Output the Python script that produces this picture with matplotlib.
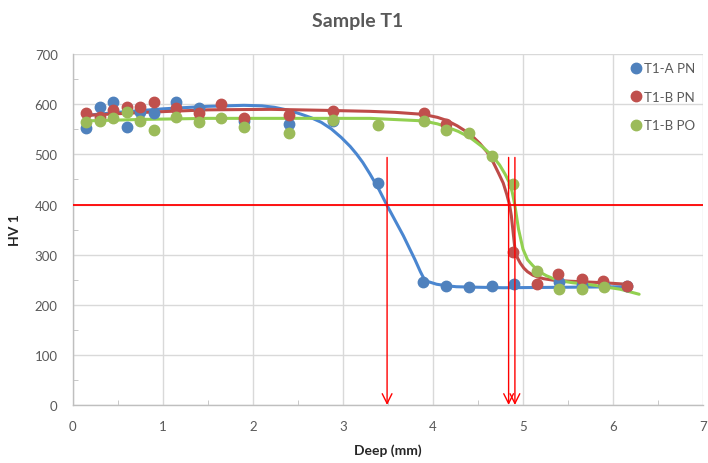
import numpy as np
import matplotlib.pyplot as plt
from matplotlib.ticker import MultipleLocator

plt.rcParams['font.family'] = ['Lato', 'DejaVu Sans']

# measured points
a_pn_x = [0.15, 0.30, 0.45, 0.60, 0.74, 0.90, 1.15, 1.40, 1.90, 2.40, 2.89, 3.39,
          3.89, 4.15, 4.40, 4.65, 4.90, 5.40, 5.65, 5.90, 6.15]
a_pn_y = [553, 595, 604, 554, 584, 582, 604, 592, 566, 560, 566, 443,
          246, 238, 235, 238, 241, 245, 240, 240, 238]

b_pn_x = [0.15, 0.30, 0.45, 0.60, 0.74, 0.90, 1.15, 1.40, 1.65, 1.90, 2.40, 2.89,
          3.90, 4.15, 4.89, 5.15, 5.39, 5.65, 5.89, 6.15]
b_pn_y = [582, 574, 589, 595, 595, 605, 592, 582, 600, 572, 578, 586,
          582, 560, 306, 241, 261, 251, 248, 238]

b_po_x = [0.15, 0.30, 0.45, 0.60, 0.74, 0.90, 1.15, 1.40, 1.65, 1.90, 2.40, 2.89,
          3.39, 3.90, 4.15, 4.40, 4.65, 4.89, 5.15, 5.40, 5.65, 5.90]
b_po_y = [565, 567, 572, 585, 567, 549, 575, 564, 572, 554, 542, 568,
          559, 567, 549, 542, 497, 441, 268, 231, 231, 235]

# trend curves
a_pn_fit_x = [0.15, 0.5, 1.0, 1.5, 1.9, 2.1, 2.24, 2.4, 2.54, 2.65, 2.76, 2.87,
              2.98, 3.08, 3.15, 3.22, 3.3, 3.4, 3.49, 3.67, 3.8, 3.86, 3.9,
              3.95, 4.04, 4.15, 4.26, 4.5, 4.78, 5.5, 6.13]
a_pn_fit_y = [578, 584, 591, 596, 598, 597, 594, 588, 580, 573, 564, 551,
              534, 516, 501, 484, 461, 430, 398, 338, 290, 266, 252,
              246, 241, 238, 236, 235, 234, 235, 236]

b_pn_fit_x = [0.15, 0.8, 1.5, 2.2, 2.8, 3.3, 3.58, 3.89, 4.05, 4.15, 4.27, 4.41,
              4.52, 4.6, 4.67, 4.73, 4.78, 4.82, 4.85, 4.87, 4.89, 4.91, 4.94,
              4.97, 5.01, 5.05, 5.11, 5.17, 5.23, 5.34, 5.52, 5.89, 6.15]
b_pn_fit_y = [578, 584, 589, 590, 588, 586, 584, 580, 574, 568, 557, 541,
              522, 505, 484, 462, 443, 420, 400, 378, 345, 312, 293,
              283, 273, 266, 259, 255, 252, 249, 247, 244, 241]

b_po_fit_x = [0.15, 0.8, 1.5, 2.5, 3.3, 3.89, 4.05, 4.15, 4.28, 4.41, 4.55, 4.66,
              4.74, 4.8, 4.85, 4.88, 4.91, 4.95, 5.0, 5.05, 5.11, 5.18, 5.26,
              5.34, 5.41, 5.55, 5.71, 5.9, 6.08, 6.29]
b_po_fit_y = [567, 570, 572, 572, 572, 567, 561, 555, 546, 534, 515, 497,
              479, 461, 443, 425, 398, 351, 311, 290, 278, 266, 258,
              252, 248, 244, 241, 236, 231, 221]

threshold = 400
arrow_x = [3.49, 4.84, 4.91]
arrow_top = 494

blue, red, green = '#4f81bd', '#c0504d', '#9bbb59'

fig = plt.figure(figsize=(7.08, 4.64), dpi=100)
ax = fig.add_axes([0.103, 0.125, 0.890, 0.756])

line_kw = dict(lw=2.2, zorder=3, solid_capstyle='round', solid_joinstyle='round')
ax.plot(a_pn_fit_x, a_pn_fit_y, color='#4a86d0', **line_kw)
ax.plot(a_pn_x, a_pn_y, 'o', color=blue, ms=7.5, zorder=4, label='T1-A PN')
ax.plot(b_pn_fit_x, b_pn_fit_y, color='#be4b48', **line_kw)
ax.plot(b_pn_x, b_pn_y, 'o', color=red, ms=7.5, zorder=4, label='T1-B PN')
ax.plot(b_po_fit_x, b_po_fit_y, color='#92d050', **line_kw)
ax.plot(b_po_x, b_po_y, 'o', color=green, ms=7.5, zorder=4, label='T1-B PO')

ax.axhline(threshold, color='#ff0000', lw=1.3, zorder=5)
for xa in arrow_x:
    ax.annotate('', xy=(xa, 0), xytext=(xa, arrow_top),
                arrowprops=dict(arrowstyle='->,head_length=0.7,head_width=0.35',
                                color='#ff0000', lw=1.0, shrinkA=0, shrinkB=0),
                zorder=6, annotation_clip=False)

ax.set_xlim(0, 7)
ax.set_ylim(0, 700)
ax.xaxis.set_major_locator(MultipleLocator(1))
ax.xaxis.set_minor_locator(MultipleLocator(0.5))
ax.yaxis.set_major_locator(MultipleLocator(100))
ax.yaxis.set_minor_locator(MultipleLocator(50))
ax.grid(True, which='major', color='#d9d9d9', lw=1.0, zorder=0)
ax.set_axisbelow(True)

for s in ['top', 'right']:
    ax.spines[s].set_visible(False)
for s in ['left', 'bottom']:
    ax.spines[s].set_color('#bfbfbf')
    ax.spines[s].set_linewidth(1.0)

ax.tick_params(which='major', length=0, pad=11, labelsize=9.5, labelcolor='#595959')
ax.tick_params(which='minor', direction='in', length=3.5, color='#bfbfbf')

ax.set_xlabel('Deep (mm)', fontsize=10, fontweight='bold', color='#262626', labelpad=8)
ax.set_ylabel('HV 1', fontsize=10, fontweight='bold', color='#262626', labelpad=10)
fig.text(0.505, 0.953, 'Sample T1', ha='center', va='center', fontsize=14,
         fontweight='bold', color='#595959')

leg = ax.legend(loc='upper right', frameon=False, fontsize=9.5, handlelength=0.6,
                handletextpad=0.3, labelspacing=1.25, borderaxespad=0.2,
                bbox_to_anchor=(1.0, 1.0), labelcolor='#595959')

fig.savefig('out.png', dpi=100)
